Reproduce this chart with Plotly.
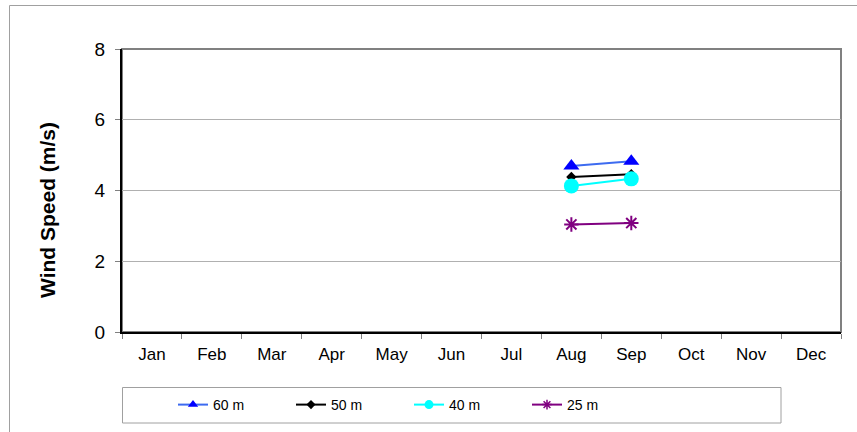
import plotly.graph_objects as go

months = ["Jan", "Feb", "Mar", "Apr", "May", "Jun", "Jul", "Aug", "Sep", "Oct", "Nov", "Dec"]
# values only for Aug and Sep
s60 = [None]*7 + [4.69, 4.83] + [None]*3
s50 = [None]*7 + [4.38, 4.46] + [None]*3
s40 = [None]*7 + [4.13, 4.33] + [None]*3
s25 = [None]*7 + [3.04, 3.08] + [None]*3
y_ticks = [0, 2, 4, 6, 8]

W, H = 857, 432
L, R, T, B = 122, 841, 49, 332

xs = list(range(len(months)))
series = [
    ("60 m", s60, "#3D6BF0", dict(symbol="triangle-up", size=14, color="#0000FF"),
     dict(symbol="triangle-up", size=9, color="#0000FF")),
    ("50 m", s50, "#000000", dict(symbol="diamond", size=8, color="#000000"),
     dict(symbol="diamond", size=7, color="#000000")),
    ("40 m", s40, "#00FFFF", dict(symbol="circle", size=15, color="#00FFFF"),
     dict(symbol="circle", size=9, color="#00FFFF")),
    ("25 m", s25, "#800080",
     dict(symbol="asterisk-open", size=12, line=dict(color="#800080", width=2)),
     dict(symbol="asterisk-open", size=8, line=dict(color="#800080", width=1.5))),
]

fig = go.Figure()
for name, vals, lc, mk, lmk in series:
    fig.add_trace(go.Scatter(x=xs, y=vals, name=name, mode="lines+markers",
                             line=dict(color=lc, width=2), marker=mk,
                             showlegend=False, legendgroup=name))
for name, vals, lc, mk, lmk in series:
    fig.add_trace(go.Scatter(x=[None], y=[None], name=name, mode="lines+markers",
                             line=dict(color=lc, width=2), marker=lmk,
                             showlegend=True, legendgroup=name, hoverinfo="skip"))

pw, ph = R - L, B - T
def px_x(p):
    return (p - L) / pw
def px_y(p):
    return (B - p) / ph

shapes = [
    # outer chart border
    dict(type="rect", xref="paper", yref="paper",
         x0=px_x(9.5), x1=px_x(870), y0=px_y(460), y1=px_y(5.5),
         line=dict(color="#A0A0A0", width=1), fillcolor="rgba(0,0,0,0)", layer="below"),
    # plot area frame (grey top/right)
    dict(type="rect", xref="x domain", yref="y domain", x0=0, x1=1, y0=0, y1=1,
         line=dict(color="#808080", width=2), layer="below"),
    # legend box
    dict(type="rect", xref="paper", yref="paper",
         x0=px_x(122.5), x1=px_x(781), y0=px_y(423), y1=px_y(387.5),
         line=dict(color="#A0A0A0", width=1), fillcolor="rgba(0,0,0,0)"),
]

annotations = [
    dict(text="<b>Wind Speed (m/s)</b>", textangle=-90, showarrow=False,
         xref="paper", yref="paper", x=px_x(47), y=px_y(210),
         xanchor="center", yanchor="middle", font=dict(size=21)),
]

fig.update_layout(
    width=W, height=H,
    margin=dict(l=L, r=W - R, t=T, b=H - B, pad=0, autoexpand=False),
    paper_bgcolor="white", plot_bgcolor="white",
    font=dict(family="Liberation Sans, Arial, sans-serif", color="black"),
    shapes=shapes, annotations=annotations,
    showlegend=True,
    legend=dict(orientation="h", xref="container", yref="container",
                x=173 / W, y=1 - 389 / H, xanchor="left", yanchor="top",
                entrywidth=73, entrywidthmode="pixels",
                font=dict(size=14), bgcolor="rgba(0,0,0,0)", traceorder="normal"),
    xaxis=dict(range=[-0.5, 11.5], tickmode="array", tickvals=xs, ticktext=months,
               ticks="", showgrid=False, zeroline=False, automargin=False,
               showline=True, linecolor="black", linewidth=2,
               tickfont=dict(size=17), ticklabelstandoff=6,
               minor=dict(tickmode="array", tickvals=[i - 0.5 for i in range(13)],
                          ticks="outside", ticklen=5, tickcolor="#808080", showgrid=False)),
    yaxis=dict(range=[0, 8], tickmode="array", tickvals=y_ticks, automargin=False,
               ticks="outside", ticklen=5, tickcolor="#808080",
               showgrid=True, gridcolor="#B0B0B0", gridwidth=1, zeroline=False,
               showline=True, linecolor="black", linewidth=2,
               tickfont=dict(size=19), ticklabelstandoff=6),
)

fig.write_html("out.html", config={"displayModeBar": False},
               post_script="document.body.style.margin='0';")
